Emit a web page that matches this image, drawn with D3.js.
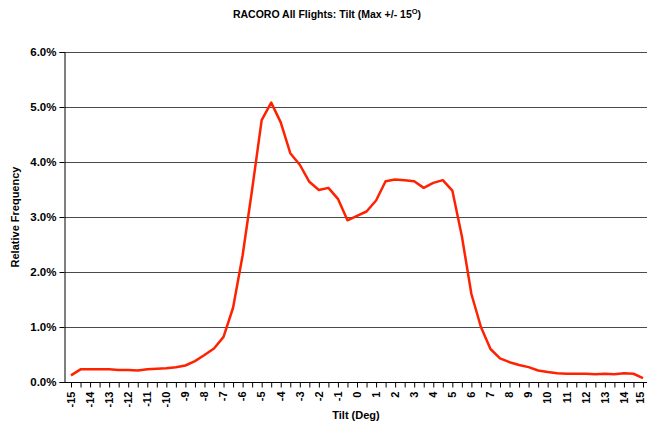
<!DOCTYPE html>
<html><head><meta charset="utf-8">
<script src="https://cdn.jsdelivr.net/npm/d3@7/dist/d3.min.js"></script>
<style>body{margin:0;background:#fff}svg{display:block}text{font-family:"Liberation Sans",Arial,sans-serif;font-weight:bold;fill:#000}</style>
</head><body><svg id="c" width="647" height="429"></svg>
<script>
const tilt = d3.range(-15, 15.001, 0.5);
const freq = [0.12,0.23,0.23,0.23,0.23,0.22,0.22,0.21,0.23,0.24,
  0.25,0.27,0.30,0.38,0.49,0.61,0.82,1.35,2.30,3.50,
  4.76,5.08,4.72,4.16,3.95,3.64,3.49,3.53,3.33,2.94,
  3.02,3.10,3.30,3.65,3.68,3.67,3.65,3.53,3.62,3.67,
  3.48,2.65,1.60,1.00,0.60,0.43,0.36,0.31,0.27,0.21,
  0.18,0.16,0.15,0.15,0.15,0.14,0.15,0.14,0.16,0.15,0.07];
const yTicks = [0,1,2,3,4,5,6];
const xLabels = d3.range(-15, 16, 1);
const title = "RACORO All Flights:  Tilt (Max +/- 15";

const svg = d3.select("#c");
const x = d3.scaleLinear().domain([-15,15]).range([71,643]);
const y = d3.scaleLinear().domain([0,6]).range([382,52]);
const left = 64.5, right = 647;

// gridlines
svg.append("g").selectAll("line").data(yTicks.filter(d=>d>0)).join("line")
  .attr("x1",left).attr("x2",right).attr("y1",d=>Math.round(y(d))+0.5).attr("y2",d=>Math.round(y(d))+0.5)
  .attr("stroke","#4a4a4a").attr("stroke-width",1);

// y axis
const ya = svg.append("g").attr("transform",`translate(${left},0)`)
  .call(d3.axisLeft(y).tickValues(yTicks).tickFormat(d=>d.toFixed(1)+"%").tickSize(5).tickPadding(3));
ya.select(".domain").attr("stroke","#000");
ya.selectAll(".tick line").attr("stroke","#000");
ya.selectAll("text").style("font-size","11.5px").attr("font-family",null);

// x axis
const xa = svg.append("g").attr("transform",`translate(0,382.5)`)
  .call(d3.axisBottom(x).tickValues(tilt).tickFormat(d=>xLabels.includes(d)?d:"").tickSize(5).tickSizeOuter(0));
xa.select(".domain").attr("d",`M${left},0H${right}`).attr("stroke","#000");
xa.selectAll(".tick line").attr("stroke","#000");
xa.selectAll("text").style("font-size","11px").attr("font-family",null)
  .attr("transform","rotate(-90)").attr("text-anchor","end").attr("dy","0.3em").attr("x",-9)
  .attr("y",d=>d===15?-2.5:0);

// line
const line = d3.line().x((d,i)=>x(tilt[i])).y(d=>y(d));
svg.append("path").datum(freq).attr("d",line).attr("fill","none")
  .attr("stroke","#ff2200").attr("stroke-width",2.5).attr("stroke-linejoin","round");

// title
const t = svg.append("text").attr("x",327).attr("y",18).attr("text-anchor","middle").style("font-size","10.5px");
t.append("tspan").text(title);
t.append("tspan").attr("dy",-4).style("font-size","7.5px").text("O");
t.append("tspan").attr("dy",4).text(")");

svg.append("text").attr("transform","translate(19,217) rotate(-90)").attr("text-anchor","middle").style("font-size","11px").text("Relative Frequency");
svg.append("text").attr("x",356).attr("y",419).attr("text-anchor","middle").style("font-size","11px").text("Tilt (Deg)");
</script></body></html>
